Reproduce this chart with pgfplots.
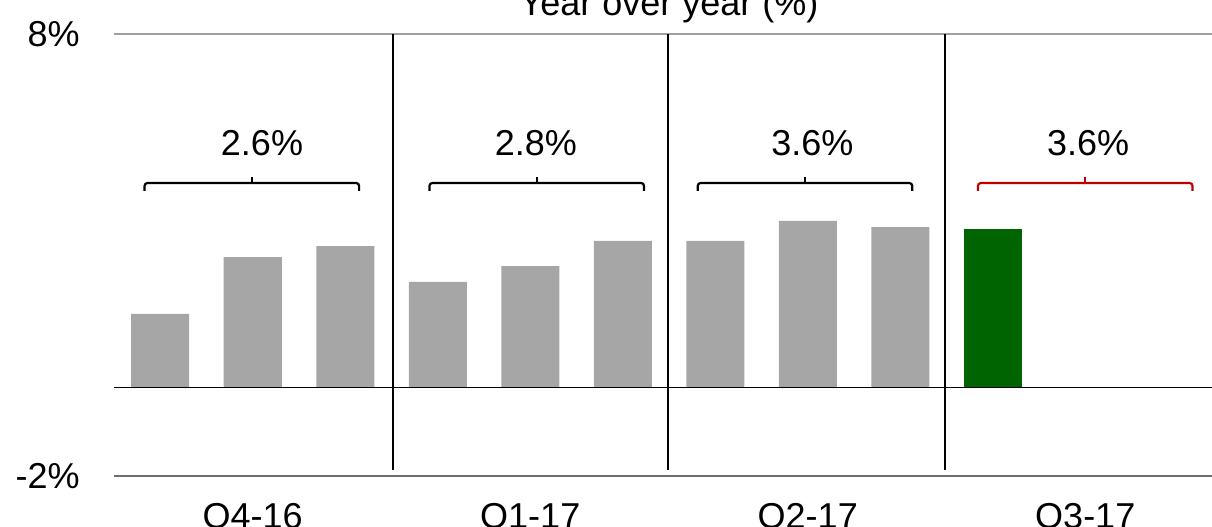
\documentclass[border=0pt]{standalone}
\usepackage{pgfplots}
\pgfplotsset{compat=1.18}
\usepackage{fontspec}
\setmainfont{Liberation Sans}
\definecolor{barg}{RGB}{166,166,166}
\definecolor{dgreen}{RGB}{0,100,0}
\definecolor{bred}{RGB}{192,0,0}
\definecolor{gl}{RGB}{160,160,160}
\definecolor{gd}{RGB}{110,110,110}
\begin{document}
\begin{tikzpicture}
\begin{axis}[
  at={(57pt,25pt)}, anchor=south west,
  scale only axis, width=555pt, height=221pt,
  xmin=-0.5, xmax=11.5, ymin=-2, ymax=8,
  axis line style={draw=none},
  tick style={draw=none},
  clip=false,
  ytick={-2,8}, yticklabels={{-2\%},{8\%}},
  xtick={1,4,7,10}, xticklabels={Q4-16,Q1-17,Q2-17,Q3-17},
  yticklabel style={anchor=east, inner sep=0pt, xshift=-17pt, font=\fontsize{18}{21}\selectfont},
  xticklabel style={anchor=north, inner sep=0pt, yshift=-9pt, font=\fontsize{18}{21}\selectfont},
  ybar, bar width=29pt,
]
\draw[gl, line width=0.8pt] (axis cs:-0.5,8) -- (axis cs:11.5,8);
\draw[gd, line width=0.8pt] (axis cs:-0.5,-2) -- (axis cs:11.5,-2);
\addplot[fill=barg, draw=none, bar shift=0pt] coordinates {
 (0,1.67) (1,2.95) (2,3.20) (3,2.39) (4,2.75) (5,3.32) (6,3.32) (7,3.77) (8,3.63)};
\addplot[fill=dgreen, draw=none, bar shift=0pt] coordinates {(9,3.59)};
\draw[black, line width=0.8pt] (axis cs:-0.5,0) -- (axis cs:11.5,0);
\draw[black, line width=1.1pt] (axis cs:2.52,8) -- (axis cs:2.52,-1.86);
\draw[black, line width=1.1pt] (axis cs:5.49,8) -- (axis cs:5.49,-1.86);
\draw[black, line width=1.1pt] (axis cs:8.48,8) -- (axis cs:8.48,-1.86);
% brackets
\draw[black, line width=1.1pt, rounded corners=1.5pt]
  (axis cs:-0.17,4.45) -- (axis cs:-0.17,4.63) -- (axis cs:2.15,4.63) -- (axis cs:2.15,4.45);
\draw[black, line width=1.1pt] (axis cs:0.99,4.63) -- (axis cs:0.99,4.77);
\draw[black, line width=1.1pt, rounded corners=1.5pt]
  (axis cs:2.91,4.45) -- (axis cs:2.91,4.63) -- (axis cs:5.23,4.63) -- (axis cs:5.23,4.45);
\draw[black, line width=1.1pt] (axis cs:4.07,4.63) -- (axis cs:4.07,4.77);
\draw[black, line width=1.1pt, rounded corners=1.5pt]
  (axis cs:5.81,4.45) -- (axis cs:5.81,4.63) -- (axis cs:8.13,4.63) -- (axis cs:8.13,4.45);
\draw[black, line width=1.1pt] (axis cs:6.97,4.63) -- (axis cs:6.97,4.77);
\draw[bred, line width=1.1pt, rounded corners=1.5pt]
  (axis cs:8.84,4.45) -- (axis cs:8.84,4.63) -- (axis cs:11.16,4.63) -- (axis cs:11.16,4.45);
\draw[bred, line width=1.1pt] (axis cs:10.0,4.63) -- (axis cs:10.0,4.77);
\node[anchor=base, inner sep=0pt, font=\fontsize{18}{21}\selectfont] at (axis cs:1.1,5.26) {2.6\%};
\node[anchor=base, inner sep=0pt, font=\fontsize{18}{21}\selectfont] at (axis cs:4.06,5.26) {2.8\%};
\node[anchor=base, inner sep=0pt, font=\fontsize{18}{21}\selectfont] at (axis cs:7.05,5.26) {3.6\%};
\node[anchor=base, inner sep=0pt, font=\fontsize{18}{21}\selectfont] at (axis cs:10.03,5.26) {3.6\%};
\node[anchor=base, inner sep=0pt, font=\fontsize{18}{21}\selectfont] at ([yshift=9.5pt]axis description cs:0.5,1) {Year over year (\%)};
\end{axis}
\pgfresetboundingbox
\path[use as bounding box] (0,0) rectangle (606pt,263pt);
\end{tikzpicture}
\end{document}
